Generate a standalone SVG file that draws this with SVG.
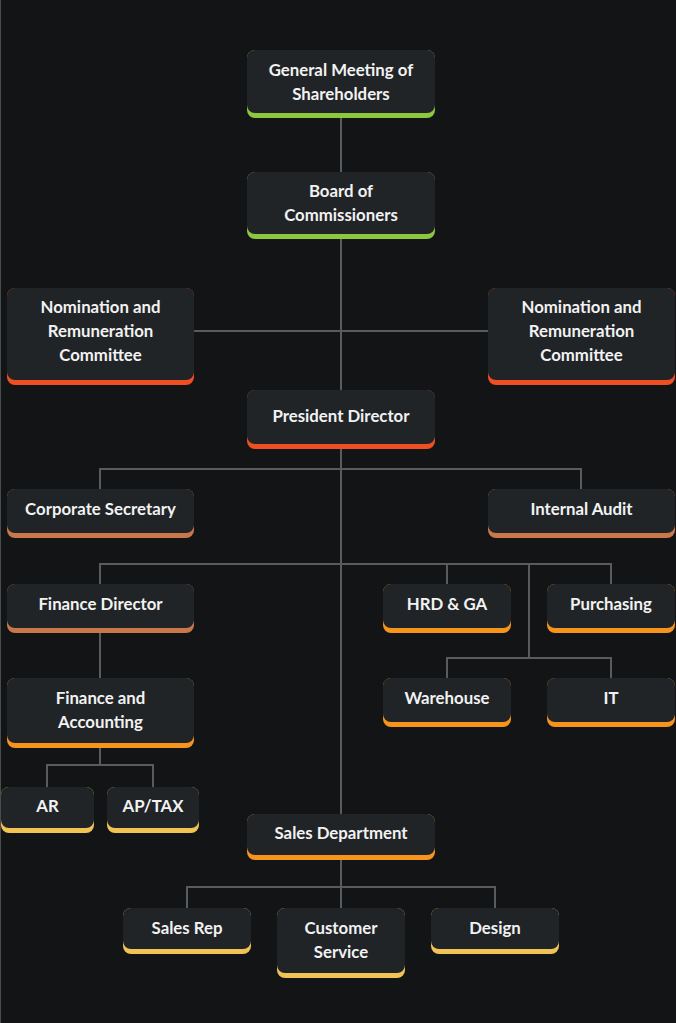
<svg xmlns="http://www.w3.org/2000/svg" width="676" height="1023" viewBox="0 0 676 1023">
<style>
.bg{fill:#131416}
.card{fill:#212427}
.t{font-family:Lato,"Liberation Sans",sans-serif;font-weight:700;font-size:16.8px;fill:#f2f2f2;text-anchor:middle}
.c{fill:none;stroke:#585c5f;stroke-width:2}
.g{fill:#8dc63f}.r{fill:#f04e23}.b{fill:#c8784a}.o{fill:#f7941d}.y{fill:#f0c354}
</style>
<rect class="bg" x="0" y="0" width="676" height="1023"/>
<line x1="0.5" y1="0" x2="0.5" y2="1023" stroke="#4a4d50" stroke-width="1"/>
<g id="connectors">
<path class="c" d="M341 117V172M341 238V390M194 331H488M341 448V814"/>
<path class="c" d="M100 489V469H581V489"/>
<path class="c" d="M100 584V564H611V584M447 564V584M529 564V658M447 678V658H611V678"/>
<path class="c" d="M100 632V678M100 747V765M47 787V765H153V787"/>
<path class="c" d="M341 859V908M187 908V887H495V908"/>
</g>
<g id="n-general-meeting"><rect class="g" x="247" y="50" width="188" height="68" rx="8"/><rect class="card" x="247" y="50" width="188" height="63" rx="8"/><text class="t" x="341" y="76">General Meeting of</text><text class="t" x="341" y="100">Shareholders</text></g>
<g id="n-board"><rect class="g" x="247" y="172" width="188" height="67" rx="8"/><rect class="card" x="247" y="172" width="188" height="62" rx="8"/><text class="t" x="341" y="197">Board of</text><text class="t" x="341" y="221">Commissioners</text></g>
<g id="n-nomination-left"><rect class="r" x="7" y="288" width="187" height="97" rx="8"/><rect class="card" x="7" y="288" width="187" height="92" rx="8"/><text class="t" x="100.5" y="313">Nomination and</text><text class="t" x="100.5" y="337">Remuneration</text><text class="t" x="100.5" y="361">Committee</text></g>
<g id="n-nomination-right"><rect class="r" x="488" y="288" width="187" height="97" rx="8"/><rect class="card" x="488" y="288" width="187" height="92" rx="8"/><text class="t" x="581.5" y="313">Nomination and</text><text class="t" x="581.5" y="337">Remuneration</text><text class="t" x="581.5" y="361">Committee</text></g>
<g id="n-president"><rect class="r" x="247" y="390" width="188" height="59" rx="8"/><rect class="card" x="247" y="390" width="188" height="54" rx="8"/><text class="t" x="341" y="422">President Director</text></g>
<g id="n-corporate-secretary"><rect class="b" x="7" y="489" width="187" height="49" rx="8"/><rect class="card" x="7" y="489" width="187" height="44" rx="8"/><text class="t" x="100.5" y="515">Corporate Secretary</text></g>
<g id="n-internal-audit"><rect class="b" x="488" y="489" width="187" height="49" rx="8"/><rect class="card" x="488" y="489" width="187" height="44" rx="8"/><text class="t" x="581.5" y="515">Internal Audit</text></g>
<g id="n-finance-director"><rect class="b" x="7" y="584" width="187" height="49" rx="8"/><rect class="card" x="7" y="584" width="187" height="44" rx="8"/><text class="t" x="100.5" y="610">Finance Director</text></g>
<g id="n-hrd"><rect class="o" x="383" y="584" width="128" height="49" rx="8"/><rect class="card" x="383" y="584" width="128" height="44" rx="8"/><text class="t" x="447" y="610">HRD &amp; GA</text></g>
<g id="n-purchasing"><rect class="o" x="547" y="584" width="128" height="49" rx="8"/><rect class="card" x="547" y="584" width="128" height="44" rx="8"/><text class="t" x="611" y="610">Purchasing</text></g>
<g id="n-finance-accounting"><rect class="o" x="7" y="678" width="187" height="70" rx="8"/><rect class="card" x="7" y="678" width="187" height="65" rx="8"/><text class="t" x="100.5" y="704">Finance and</text><text class="t" x="100.5" y="728">Accounting</text></g>
<g id="n-warehouse"><rect class="o" x="383" y="678" width="128" height="49" rx="8"/><rect class="card" x="383" y="678" width="128" height="44" rx="8"/><text class="t" x="447" y="704">Warehouse</text></g>
<g id="n-it"><rect class="o" x="547" y="678" width="128" height="49" rx="8"/><rect class="card" x="547" y="678" width="128" height="44" rx="8"/><text class="t" x="611" y="704">IT</text></g>
<g id="n-ar"><rect class="y" x="1" y="787" width="93" height="46" rx="8"/><rect class="card" x="1" y="787" width="93" height="41" rx="8"/><text class="t" x="47.5" y="812">AR</text></g>
<g id="n-ap-tax"><rect class="y" x="107" y="787" width="92" height="46" rx="8"/><rect class="card" x="107" y="787" width="92" height="41" rx="8"/><text class="t" x="153" y="812">AP/TAX</text></g>
<g id="n-sales-department"><rect class="o" x="247" y="814" width="188" height="46" rx="8"/><rect class="card" x="247" y="814" width="188" height="41" rx="8"/><text class="t" x="341" y="839">Sales Department</text></g>
<g id="n-sales-rep"><rect class="y" x="123" y="908" width="128" height="46" rx="8"/><rect class="card" x="123" y="908" width="128" height="41" rx="8"/><text class="t" x="187" y="934">Sales Rep</text></g>
<g id="n-customer-service"><rect class="y" x="277" y="908" width="128" height="70" rx="8"/><rect class="card" x="277" y="908" width="128" height="65" rx="8"/><text class="t" x="341" y="934">Customer</text><text class="t" x="341" y="958">Service</text></g>
<g id="n-design"><rect class="y" x="431" y="908" width="128" height="46" rx="8"/><rect class="card" x="431" y="908" width="128" height="41" rx="8"/><text class="t" x="495" y="934">Design</text></g>
</svg>
